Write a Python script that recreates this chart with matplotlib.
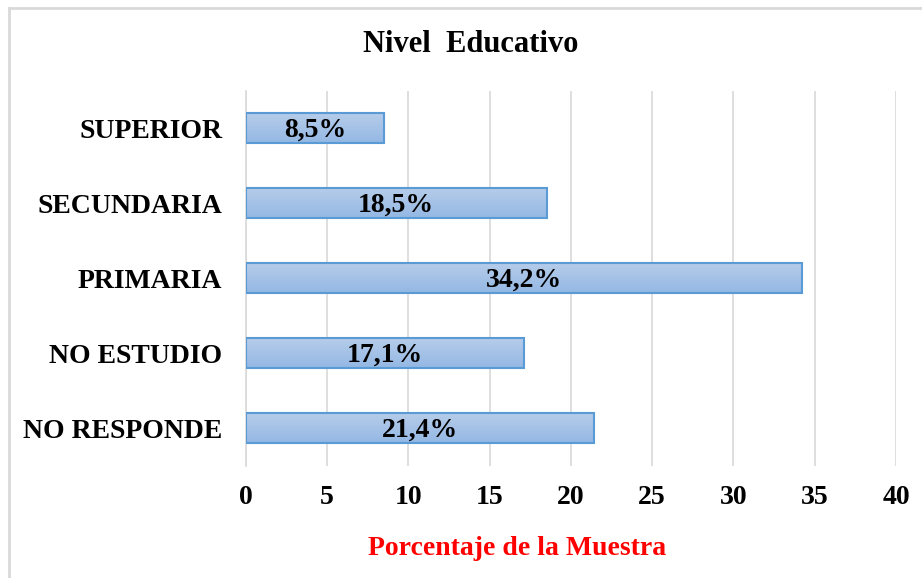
import numpy as np
import matplotlib
matplotlib.use("Agg")
import matplotlib.pyplot as plt
from matplotlib.lines import Line2D

# datos
categorias = ["SUPERIOR", "SECUNDARIA", "PRIMARIA", "NO ESTUDIO", "NO RESPONDE"]
valores = [8.5, 18.5, 34.2, 17.1, 21.4]
etiquetas = ["8,5%", "18,5%", "34,2%", "17,1%", "21,4%"]
x_ticks = [0, 5, 10, 15, 20, 25, 30, 35, 40]

plt.rcParams['font.family'] = ['Liberation Serif', 'DejaVu Serif']
plt.rcParams['font.weight'] = 'bold'

fig = plt.figure(figsize=(9.22, 5.78), dpi=100)
ax = fig.add_axes([0.2668, 0.1946, 0.7050, 0.6488])

y = np.arange(len(categorias))
bars = ax.barh(y, valores, height=0.4, color='none', edgecolor='#5b9bd5',
               linewidth=1.5, zorder=3)

# relleno degradado dentro de cada barra
grad = np.linspace(0, 1, 64).reshape(-1, 1)
cmap = matplotlib.colors.LinearSegmentedColormap.from_list('g', ['#b7cdea', '#94b8e4'])
for b in bars:
    x0, y0 = b.get_x(), b.get_y()
    w, h = b.get_width(), b.get_height()
    im = ax.imshow(grad, extent=[x0, x0 + w, y0 + h, y0], aspect='auto',
                   cmap=cmap, zorder=2, origin='upper')
    im.set_clip_path(b)

for yi, v, t in zip(y, valores, etiquetas):
    ax.text(v / 2, yi + 0.03, t, ha='center', va='center', fontsize=20,
            fontweight='bold', color='black', zorder=4)

ax.set_xlim(0, 40)
ax.set_ylim(len(categorias) - 0.5, -0.5)
ax.set_yticks(y)
ax.set_yticklabels(categorias, fontsize=20, fontweight='bold')
ax.set_xticks(x_ticks)
ax.set_xticklabels([str(t) for t in x_ticks], fontsize=20, fontweight='bold')
ax.tick_params(axis='both', length=0)
ax.tick_params(axis='y', pad=17)
ax.tick_params(axis='x', pad=14)

ax.grid(axis='x', color='#d9d9d9', linewidth=1.2, zorder=0)
ax.set_axisbelow(True)
for s in ['top', 'right', 'bottom']:
    ax.spines[s].set_visible(False)
ax.spines['left'].set_color('#d9d9d9')
ax.spines['left'].set_linewidth(1.2)

ax.set_xlabel('Porcentaje de la Muestra', color='red', fontsize=20,
              fontweight='bold', labelpad=19)
ax.xaxis.label.set_x(0.417)
fig.text(0.511, 0.923, 'Nivel  Educativo', ha='center', va='center',
         fontsize=22, fontweight='bold')

# borde exterior (solo izquierda y arriba visibles)
fig.add_artist(Line2D([0.0098, 0.0098], [0, 0.986], transform=fig.transFigure,
                      color='#d9d9d9', linewidth=2))
fig.add_artist(Line2D([0.0098, 1.0], [0.986, 0.986], transform=fig.transFigure,
                      color='#d9d9d9', linewidth=2))

fig.savefig('out.png', dpi=100)
